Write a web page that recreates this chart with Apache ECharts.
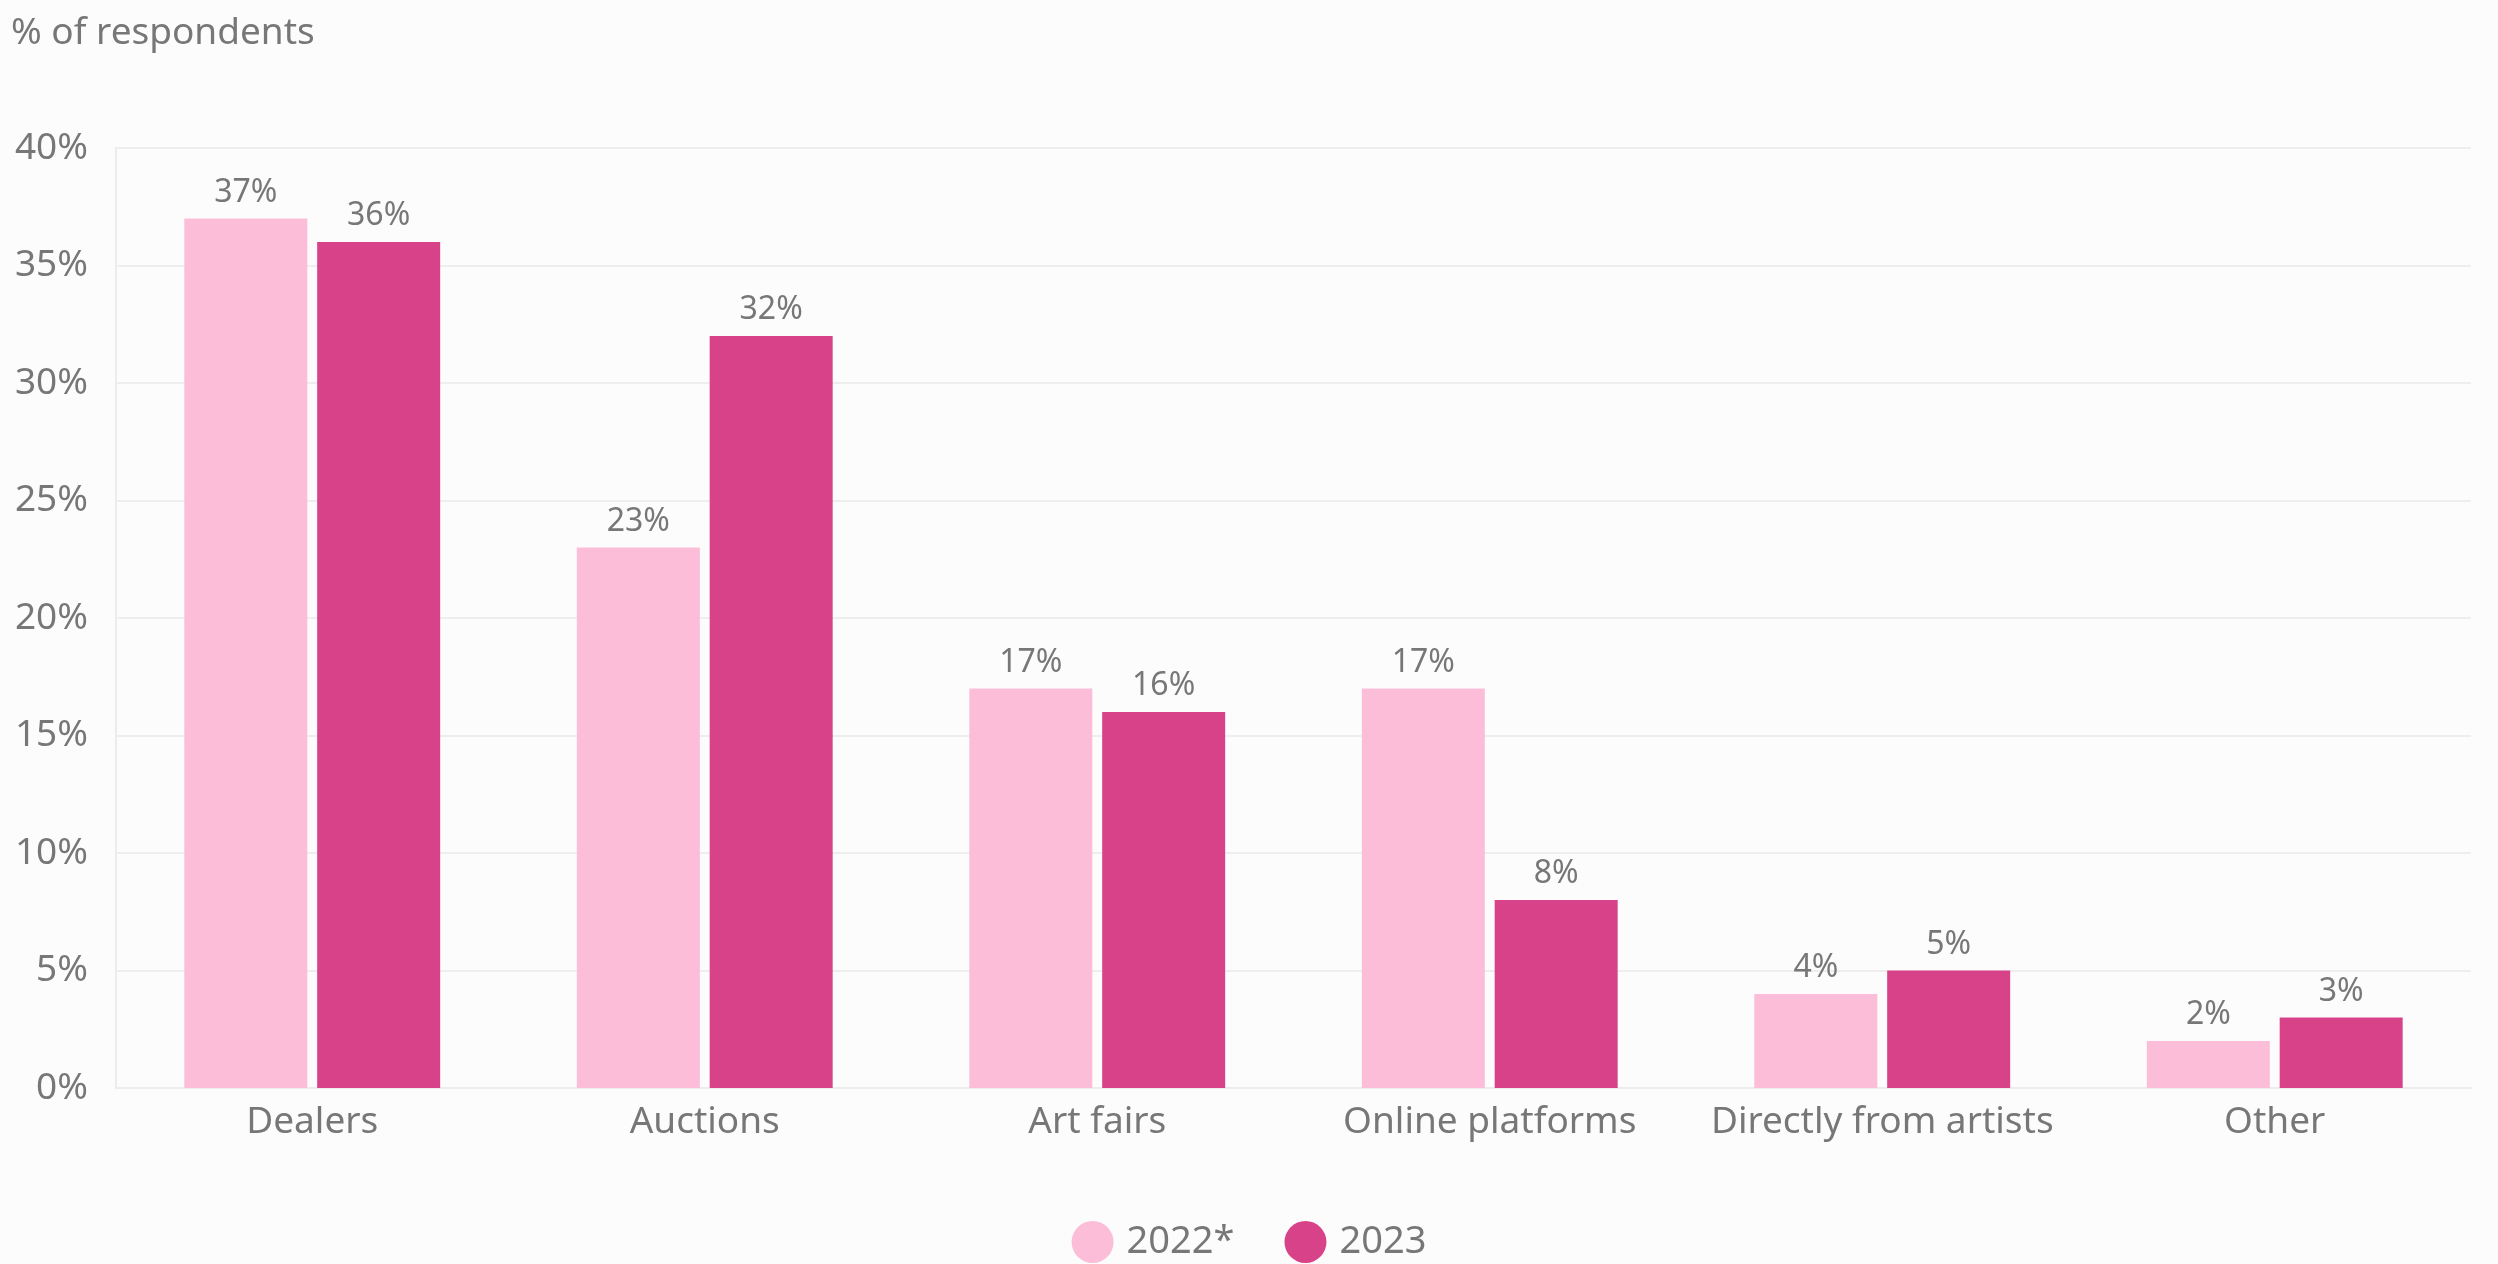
<!DOCTYPE html>
<html>
<head>
<meta charset="utf-8">
<script src="https://cdn.jsdelivr.net/npm/echarts@6/dist/echarts.min.js"></script>
<style>
  html, body { margin: 0; padding: 0; background: #fcfcfc; }
  #chart { width: 2498px; height: 1264px; }
</style>
</head>
<body>
<div id="chart"></div>
<script>
var categories = ['Dealers', 'Auctions', 'Art fairs', 'Online platforms', 'Directly from artists', 'Other'];
var values2022 = [37, 23, 17, 17, 4, 2];
var values2023 = [36, 32, 16, 8, 5, 3];
var seriesNames = ['2022*', '2023'];

var chart = echarts.init(document.getElementById('chart'));

var labelStyle = {
    show: true,
    position: 'top',
    distance: 10,
    formatter: '{c}%',
    color: '#777777',
    fontSize: 32,
    fontFamily: 'Noto Sans'
};

var option = {
    backgroundColor: '#fcfcfc',
    textStyle: { fontFamily: 'Noto Sans', color: '#777777' },
    title: {
        text: '% of respondents',
        left: 6,
        top: 10,
        textStyle: { color: '#777777', fontSize: 37, fontWeight: 'normal' }
    },
    legend: {
        data: seriesNames,
        top: 1216,
        left: 'center',
        icon: 'circle',
        itemWidth: 42,
        itemHeight: 42,
        itemGap: 50,
        textStyle: { color: '#777777', fontSize: 38, padding: [0, 0, 0, 8] }
    },
    grid: {
        left: 116,
        right: 27,
        top: 148,
        bottom: 176,
        containLabel: false
    },
    xAxis: {
        type: 'category',
        data: categories,
        axisLine: { lineStyle: { color: '#ececec', width: 2 } },
        axisTick: { show: false },
        axisLabel: { color: '#777777', fontSize: 37, margin: 16, interval: 0 }
    },
    yAxis: {
        type: 'value',
        min: 0,
        max: 40,
        interval: 5,
        axisLine: { show: true, lineStyle: { color: '#ececec', width: 2 } },
        axisTick: { show: false },
        splitLine: { lineStyle: { color: '#eeeeee', width: 2 } },
        axisLabel: { color: '#777777', fontSize: 37, margin: 28, formatter: '{value}%' }
    },
    series: [
        {
            name: seriesNames[0],
            type: 'bar',
            data: values2022,
            barWidth: 123,
            barGap: '8%',
            itemStyle: { color: '#fbbdd8' },
            label: labelStyle
        },
        {
            name: seriesNames[1],
            type: 'bar',
            data: values2023,
            barWidth: 123,
            itemStyle: { color: '#d84289' },
            label: labelStyle
        }
    ]
};

chart.setOption(option);
</script>
</body>
</html>
